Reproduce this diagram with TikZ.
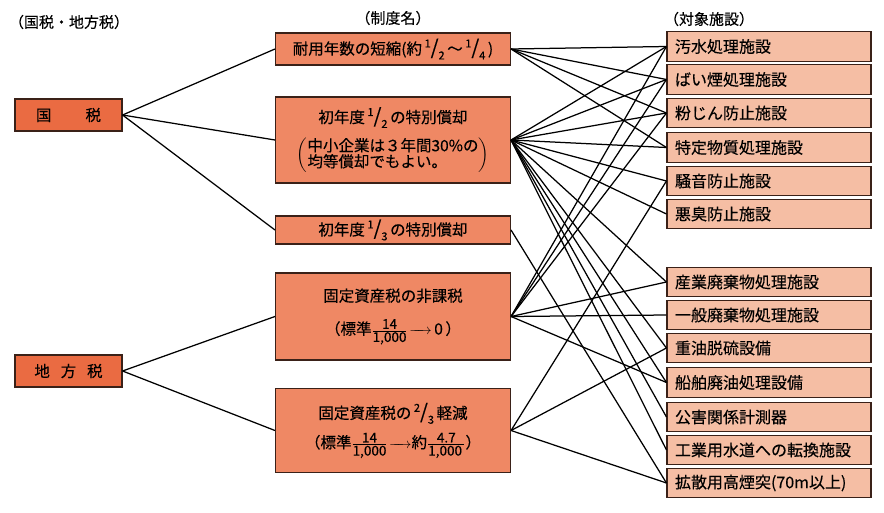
\documentclass[tikz,border=0pt]{standalone}
\usepackage{amsmath}
\usepackage{fontspec}
\setmainfont{Noto Sans CJK JP}[FakeBold=0.3]
\definecolor{leftfill}{HTML}{EA6B42}
\definecolor{midfill}{HTML}{EF8864}
\definecolor{rightfill}{HTML}{F5BEA4}
\definecolor{edgec}{HTML}{3A2118}
\newcommand{\slfrac}[2]{\raisebox{0.45em}{\fontsize{11}{11}\selectfont #1}{\fontsize{20}{20}\selectfont /}\raisebox{-0.32em}{\fontsize{11}{11}\selectfont #2}}
\newcommand{\stfrac}[2]{\genfrac{}{}{0.8pt}{}{\mbox{\fontsize{13.5}{13.5}\selectfont #1}}{\mbox{\fontsize{13.5}{13.5}\selectfont #2}}}
\newcommand{\longarr}{\mkern-3mu\relbar\mkern-9mu\relbar\mkern-9mu\rightarrow}
\tikzset{
  basebox/.style={draw=edgec, line width=1.1pt, inner sep=0pt, font=\fontsize{15.5}{19}\selectfont},
  leftbox/.style={basebox, fill=leftfill, minimum width=107, minimum height=32},
  midbox/.style={basebox, fill=midfill, minimum width=235, align=center},
  rightbox/.style={basebox, fill=rightfill, minimum height=29.5, text width=188, inner xsep=8, align=left, font=\fontsize{16}{19}\selectfont},
  conn/.style={line width=1.25pt, black},
  hdr/.style={font=\fontsize{15}{18}\selectfont, inner sep=0pt}
}
\begin{document}
\begin{tikzpicture}[x=1pt,y=-1pt]
\useasboundingbox (0,0) rectangle (884,513);
\fill[white] (0,0) rectangle (884,513);
% headers
\node[hdr] (h1) at (69,22) {（国税・地方税）};
\node[hdr] (h2) at (393,18) {（制度名）};
\node[hdr] (h3) at (709,19) {（対象施設）};
% left boxes
\node[leftbox] (kz) at (68.5,115) {国\hspace{2.2em}税};
\node[leftbox] (cz) at (68.5,371) {地\hspace{0.7em}方\hspace{0.7em}税};
% middle boxes
\node[midbox, minimum height=32] (A) at (393,49) {耐用年数の短縮(約\,\slfrac{1}{2}\,〜\,\slfrac{1}{4}\,)};
\node[midbox, minimum height=86] (B) at (393,140) {初年度\,\slfrac{1}{2}\,の特別償却\\[9pt]
  $\left(\vcenter{\hbox{\begin{tabular}{@{}l@{}}中小企業は３年間30\%の\\[-3pt]均等償却でもよい。\end{tabular}}}\right)$};
\node[midbox, minimum height=28] (C) at (393,230) {初年度\,\slfrac{1}{3}\,の特別償却};
\node[midbox, minimum height=87] (D) at (393,316.5) {固定資産税の非課税\\[14pt]
  （標準$\stfrac{14}{1,000}\longarr$\,0\,）};
\node[midbox, minimum height=84] (E) at (393,430.5) {固定資産税の\,\slfrac{2}{3}\,軽減\\[8pt]
  （標準$\stfrac{14}{1,000}\longarr$約$\stfrac{4.7}{1,000\,}$）};
% right boxes
\node[rightbox] (r1) at (769,46.5) {汚水処理施設};
\node[rightbox] (r2) at (769,79.5) {ばい煙処理施設};
\node[rightbox] (r3) at (769,113) {粉じん防止施設};
\node[rightbox] (r4) at (769,147.5) {特定物質処理施設};
\node[rightbox] (r5) at (769,181) {騒音防止施設};
\node[rightbox] (r6) at (769,214) {悪臭防止施設};
\node[rightbox] (r7) at (769,282) {産業廃棄物処理施設};
\node[rightbox] (r8) at (769,315) {一般廃棄物処理施設};
\node[rightbox] (r9) at (769,348) {重油脱硫設備};
\node[rightbox] (r10) at (769,382.5) {船舶廃油処理設備};
\node[rightbox] (r11) at (769,417) {公害関係計測器};
\node[rightbox] (r12) at (769,450) {工業用水道への転換施設};
\node[rightbox] (r13) at (769,483) {拡散用高煙突(70m以上)};
% left connectors
\draw[conn] (kz.east) -- (A.west);
\draw[conn] (kz.east) -- (B.west);
\draw[conn] (kz.east) -- (C.west);
\draw[conn] (cz.east) -- (D.west);
\draw[conn] (cz.east) -- (E.west);
% right connectors
\foreach \t in {1,2,3,4} {\draw[conn] (A.east) -- (r\t.west);}
\foreach \t in {1,2,3,4,5,6,7,9,10,11,12} {\draw[conn] (B.east) -- (r\t.west);}
\foreach \t in {13} {\draw[conn] (C.east) -- (r\t.west);}
\foreach \t in {1,2,3,7,8,10} {\draw[conn] (D.east) -- (r\t.west);}
\foreach \t in {5,9,13} {\draw[conn] (E.east) -- (r\t.west);}
\end{tikzpicture}
\end{document}
